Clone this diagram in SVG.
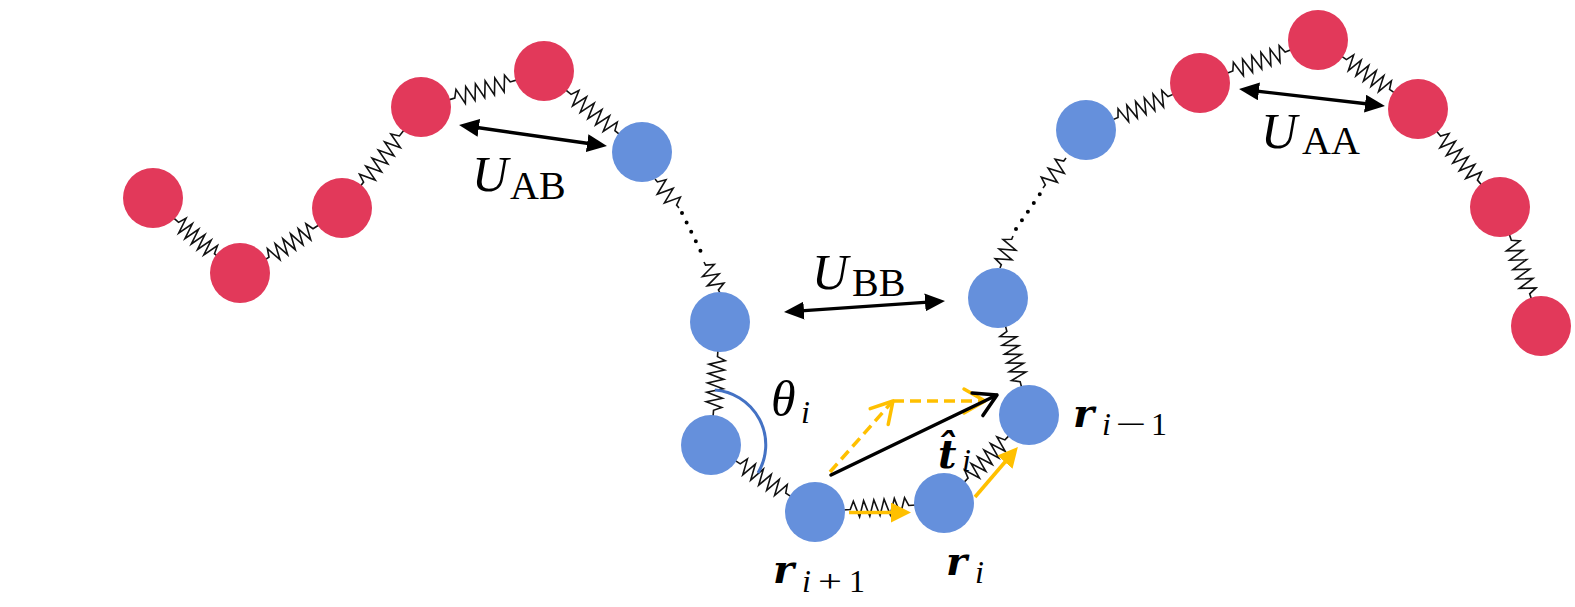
<svg xmlns="http://www.w3.org/2000/svg" xmlns:xlink="http://www.w3.org/1999/xlink" width="1575" height="607" viewBox="0 0 1575 607">
<style>
.spring{fill:none;stroke:#111;stroke-width:1.6;stroke-linejoin:miter}
.red{fill:#E2395A}
.blue{fill:#6590DC}
.dots{fill:none;stroke:#000;stroke-width:4;stroke-linecap:round;stroke-dasharray:0 10.5}
.dbl{fill:none;stroke:#000;stroke-width:3.4;marker-start:url(#blk);marker-end:url(#blk)}
.ylw{fill:none;stroke:#FFC000;stroke-width:3.6;marker-end:url(#yel)}
.ydash{fill:none;stroke:#FFC000;stroke-width:3.5;stroke-dasharray:11 6}
.yhead{fill:none;stroke:#FFC000;stroke-width:3.5;stroke-linecap:round;stroke-linejoin:round}
.tvec{fill:none;stroke:#000;stroke-width:3.5;stroke-linecap:round;stroke-linejoin:round}
.arc{fill:none;stroke:#4472C4;stroke-width:3}
.mi{font-family:"Liberation Serif","Times New Roman",serif;font-style:italic}
.rm{font-family:"Liberation Serif","Times New Roman",serif}
.bi{font-family:"DejaVu Serif","Liberation Serif",serif;font-style:italic;font-weight:bold}
</style>
<defs>
<path id="zz" class="spring" vector-effect="non-scaling-stroke" d="M-50,0 H-40 L-35,-8 L-28,8 L-21,-8 L-14,8 L-7,-8 L0,8 L7,-8 L14,8 L21,-8 L28,8 L35,-8 L40,0 H50"/>
<path id="zs" class="spring" vector-effect="non-scaling-stroke" d="M-50,0 H-40 L-30,-8 L-15,8 L0,-8 L15,8 L30,-8 L40,0 H50"/>
<marker id="blk" viewBox="0 0 20 18" markerWidth="20" markerHeight="18" refX="14" refY="9" orient="auto-start-reverse" markerUnits="userSpaceOnUse">
<path d="M0,0 L20,9 L0,18 z" fill="#000"/>
</marker>
<marker id="yel" viewBox="0 0 20 20" markerWidth="20" markerHeight="20" refX="14" refY="10" orient="auto" markerUnits="userSpaceOnUse">
<path d="M0,0 L20,10 L0,20 z" fill="#FFC000"/>
</marker>
</defs>
<rect width="1575" height="607" fill="#fff"/>

<g id="springs">
<use href="#zz" transform="translate(196.5,238) rotate(41.1) scale(0.595,1)"/>
<use href="#zz" transform="translate(291,243) rotate(-32.9) scale(0.655,1)"/>
<use href="#zz" transform="translate(381.5,159) rotate(-52.2) scale(0.73,1)"/>
<use href="#zz" transform="translate(482.5,90) rotate(-16.3) scale(0.722,1)"/>
<use href="#zz" transform="translate(593,112.5) rotate(39.6) scale(0.711,1)"/>
<use href="#zs" transform="translate(667,193.5) rotate(50.4) scale(0.376,1)"/>
<path class="dots" d="M682,213 L703,256"/>
<use href="#zs" transform="translate(712,277.5) rotate(62.7) scale(0.349,1)"/>
<use href="#zz" transform="translate(715.5,383.5) rotate(94.2) scale(0.673,1)"/>
<use href="#zz" transform="translate(763,478.5) rotate(32.8) scale(0.677,1)"/>
<use href="#zz" transform="translate(879.5,507.5) rotate(-4) scale(0.733,1)"/>
<use href="#zz" transform="translate(986.5,459) rotate(-46) scale(0.663,1)"/>
<use href="#zz" transform="translate(1013.5,356.5) rotate(-104.8) scale(0.65,1)"/>
<use href="#zs" transform="translate(1006.5,252) rotate(-67.9) scale(0.345,1)"/>
<path class="dots" d="M1016,229 L1040,194"/>
<use href="#zs" transform="translate(1054.5,173) rotate(-52.5) scale(0.378,1)"/>
<use href="#zz" transform="translate(1143,107) rotate(-22.8) scale(0.677,1)"/>
<use href="#zz" transform="translate(1259,61.5) rotate(-20) scale(0.696,1)"/>
<use href="#zz" transform="translate(1368,74.5) rotate(34.6) scale(0.655,1)"/>
<use href="#zz" transform="translate(1459,158) rotate(50.1) scale(0.718,1)"/>
<use href="#zz" transform="translate(1520.5,267) rotate(71.1) scale(0.708,1)"/>
</g>

<g id="bead-R1"><circle class="red" cx="153" cy="198" r="30"/></g>
<g id="bead-R2"><circle class="red" cx="240" cy="273" r="30"/></g>
<g id="bead-R3"><circle class="red" cx="342" cy="208" r="30"/></g>
<g id="bead-R4"><circle class="red" cx="421" cy="107" r="30"/></g>
<g id="bead-R5"><circle class="red" cx="544" cy="71" r="30"/></g>
<g id="bead-B1"><circle class="blue" cx="642" cy="152" r="30"/></g>
<g id="bead-B2"><circle class="blue" cx="720" cy="322" r="30"/></g>
<g id="bead-B3"><circle class="blue" cx="711" cy="445" r="30"/></g>
<g id="bead-B4"><circle class="blue" cx="815" cy="512" r="30"/></g>
<g id="bead-B5"><circle class="blue" cx="944" cy="503" r="30"/></g>
<g id="bead-B6"><circle class="blue" cx="1029" cy="415" r="30"/></g>
<g id="bead-B7"><circle class="blue" cx="998" cy="298" r="30"/></g>
<g id="bead-B8"><circle class="blue" cx="1086" cy="130" r="30"/></g>
<g id="bead-R6"><circle class="red" cx="1200" cy="83" r="30"/></g>
<g id="bead-R7"><circle class="red" cx="1318" cy="40" r="30"/></g>
<g id="bead-R8"><circle class="red" cx="1418" cy="109" r="30"/></g>
<g id="bead-R9"><circle class="red" cx="1500" cy="207" r="30"/></g>
<g id="bead-R10"><circle class="red" cx="1541" cy="326" r="30"/></g>

<g id="arrows">
<path class="dbl" d="M465,125.8 L601,145.2"/>
<path class="dbl" d="M790,311.6 L939,301.4"/>
<path class="dbl" d="M1245,89.7 L1379,105.3"/>
<path class="arc" d="M715,390 A55,55 0 0,1 758,473"/>
<path class="ydash" d="M830,472 L891,403"/>
<path class="yhead" d="M870.2,408.6 L893,401 L888.2,424.5"/>
<path class="ydash" d="M893,401 L982,401"/>
<path class="yhead" d="M964,389 L985,401 L964,413"/>
<path class="tvec" d="M831,475 L997,395 M972.1,393.1 L997,395 L982.9,415.6"/>
<path class="ylw" d="M849,512.5 L905,512.5"/>
<path class="ylw" d="M975,497 L1014,451.5"/>
</g>

<g id="label-UAB"><text class="mi" x="472" y="191" font-size="50">U</text><text class="rm" x="510" y="199" font-size="40">AB</text></g>
<g id="label-UBB"><text class="mi" x="812" y="289" font-size="50">U</text><text class="rm" x="852" y="296" font-size="40">BB</text></g>
<g id="label-UAA"><text class="mi" x="1261" y="148" font-size="50">U</text><text class="rm" x="1302" y="154" font-size="40">AA</text></g>
<g id="label-theta"><text class="mi" x="771" y="416" font-size="50">θ</text><text class="mi" x="801" y="423" font-size="32">i</text></g>
<g id="label-t"><text class="bi" x="938" y="468" font-size="40">t̂</text><text class="mi" x="962" y="471" font-size="32">i</text></g>
<g id="label-rim1"><text class="bi" x="1073" y="427" font-size="40">r</text><text class="mi" x="1102" y="435" font-size="32">i</text><text class="rm" x="1115" y="435" font-size="32" textLength="31" lengthAdjust="spacingAndGlyphs">−</text><text class="rm" x="1151" y="435" font-size="32">1</text></g>
<g id="label-ri"><text class="bi" x="946" y="575" font-size="40">r</text><text class="mi" x="975" y="583" font-size="32">i</text></g>
<g id="label-rip1"><text class="bi" x="773" y="583" font-size="40">r</text><text class="mi" x="802" y="592" font-size="32">i</text><text class="rm" x="818" y="592" font-size="32" textLength="24" lengthAdjust="spacingAndGlyphs">+</text><text class="rm" x="849" y="592" font-size="32">1</text></g>
</svg>
